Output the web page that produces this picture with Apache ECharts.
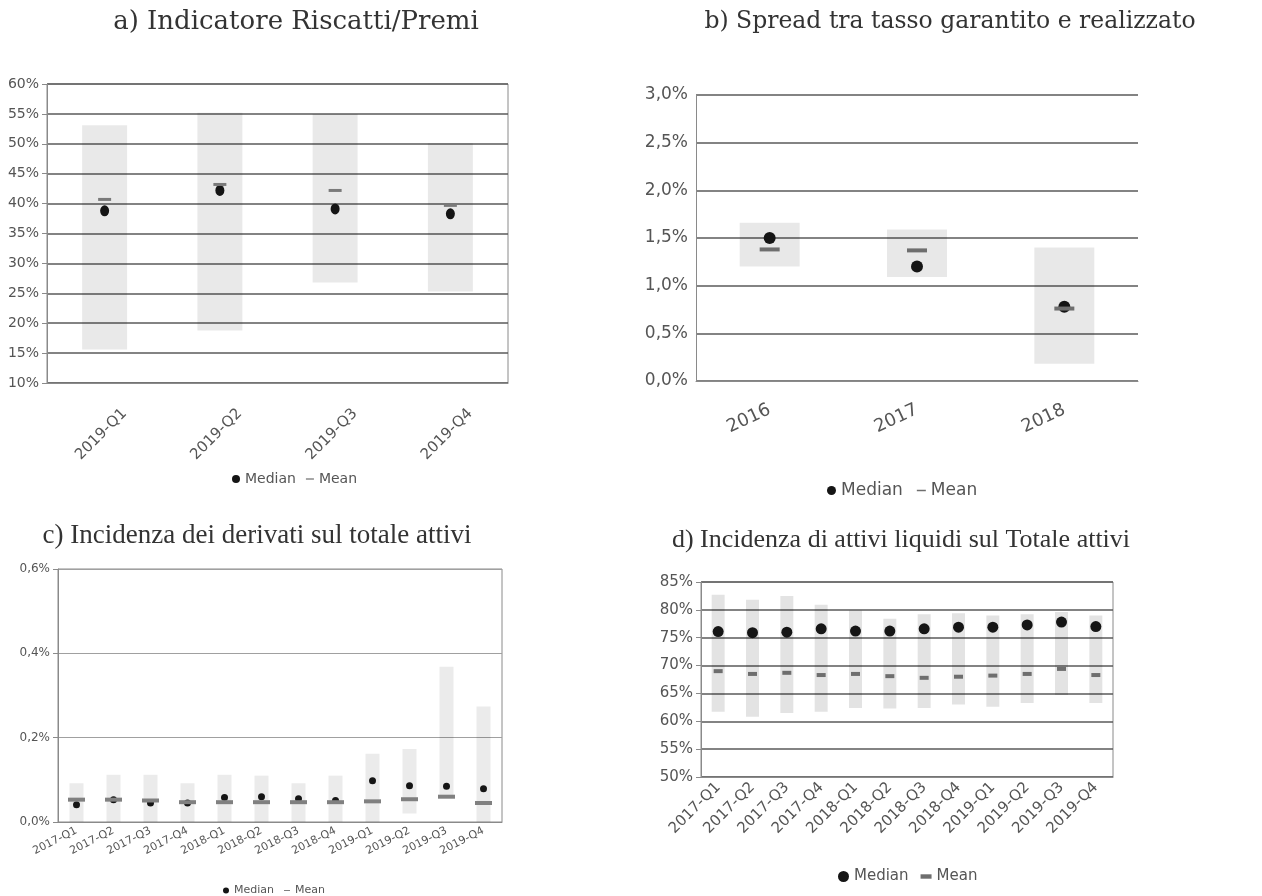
<!DOCTYPE html>
<html>
<head>
<meta charset="utf-8">
<script src="https://cdn.jsdelivr.net/npm/echarts@6/dist/echarts.min.js"></script>
<style>
  html, body { margin: 0; padding: 0; background: #fff; }
  #page  { position: relative; width: 1262px; height: 896px; }
  .panel { position: absolute; }
  #chartA { left: 0;     top: 0;   width: 620px; height: 500px; }
  #chartB { left: 620px; top: 0;   width: 642px; height: 500px; }
  #chartC { left: 0;     top: 500px; width: 620px; height: 396px; }
  #chartD { left: 630px; top: 500px; width: 632px; height: 396px; }
</style>
</head>
<body>
<div id="page">
  <div id="chartA" class="panel"></div>
  <div id="chartB" class="panel"></div>
  <div id="chartC" class="panel"></div>
  <div id="chartD" class="panel"></div>
</div>
<script>
// ─── data ───────────────────────────────────────────────────
// a) Indicatore Riscatti/Premi (%)
const quartersA = ['2019-Q1', '2019-Q2', '2019-Q3', '2019-Q4']
const lowA    = [15.6, 18.8, 26.8, 25.3]
const highA   = [53.1, 55.2, 55.0, 50.1]
const medianA = [38.8, 42.2, 39.1, 38.3]
const meanA   = [40.7, 43.2, 42.2, 39.7]

// b) Spread tra tasso garantito e realizzato (%)
const yearsB  = ['2016', '2017', '2018']
const lowB    = [1.20, 1.09, 0.18]
const highB   = [1.66, 1.59, 1.40]
const medianB = [1.50, 1.20, 0.78]
const meanB   = [1.38, 1.37, 0.76]

// c) e d) trimestri 2017-2019
const quartersCD = ['2017-Q1', '2017-Q2', '2017-Q3', '2017-Q4',
                    '2018-Q1', '2018-Q2', '2018-Q3', '2018-Q4',
                    '2019-Q1', '2019-Q2', '2019-Q3', '2019-Q4']

// c) Incidenza dei derivati sul totale attivi (%)
const lowC    = [0, 0, 0, 0, 0, 0, 0, 0, 0, 0.02, 0.057, 0]
const highC   = [0.092, 0.112, 0.112, 0.092, 0.112, 0.110, 0.092, 0.110, 0.162, 0.173, 0.368, 0.274]
const medianC = [0.041, 0.053, 0.045, 0.045, 0.058, 0.060, 0.055, 0.051, 0.098, 0.086, 0.085, 0.079]
const meanC   = [0.053, 0.053, 0.051, 0.047, 0.047, 0.047, 0.047, 0.047, 0.049, 0.054, 0.060, 0.045]

// d) Incidenza di attivi liquidi sul Totale attivi (%)
const lowD    = [61.7, 60.8, 61.5, 61.7, 62.4, 62.3, 62.4, 63.0, 62.6, 63.3, 64.7, 63.3]
const highD   = [82.7, 81.8, 82.5, 80.9, 79.9, 78.4, 79.2, 79.4, 79.0, 79.2, 79.6, 79.0]
const medianD = [76.1, 75.9, 76.0, 76.6, 76.2, 76.2, 76.6, 76.9, 76.9, 77.3, 77.8, 77.0]
const meanD   = [69.0, 68.5, 68.7, 68.3, 68.5, 68.1, 67.8, 68.0, 68.2, 68.5, 69.4, 68.3]

const SANS  = 'DejaVu Sans'
const SERIF = 'Liberation Serif'

// fmt: '60%' oppure '3,0%'
const pct = (dec) => (v) => v.toFixed(dec).replace('.', ',') + '%'

// ─── costruisce le serie: barra invisibile + intervallo + mediana + media ───
const buildSeries = (low, high, median, mean, s) => [
  {
    type: 'bar', stack: 'r', silent: true, barWidth: s.barW,
    itemStyle: { color: 'transparent' },
    data: low,
  },
  {
    // semitrasparente: le linee della griglia restano visibili
    type: 'bar', stack: 'r', silent: true, barWidth: s.barW,
    itemStyle: { color: s.barColor },
    data: high.map((h, i) => +(h - low[i]).toFixed(4)),
  },
  {
    name: 'Median', type: 'scatter', symbol: 'circle', symbolSize: s.dot,
    itemStyle: { color: '#151515', opacity: 1 },
    data: median,
  },
  {
    name: 'Mean', type: 'scatter', symbol: 'rect', symbolSize: s.dash,
    itemStyle: { color: s.dashColor, opacity: 1 },
    data: mean,
  },
]

const buildOption = (p) => ({
  animation: false,
  title: {
    text: p.title, left: p.titleX, top: p.titleY, textAlign: 'center',
    textStyle: { fontFamily: p.titleFont, fontSize: p.titleSize, fontWeight: 'normal', color: '#333' },
  },
  legend: {
    left: p.legendX, top: p.legendY, itemGap: p.legendGap,
    itemWidth: p.legendIcon, itemHeight: p.legendIcon,
    textStyle: { fontFamily: SANS, fontSize: p.legendFont, color: '#555' },
    data: [
      { name: 'Median', icon: 'circle' },
      { name: 'Mean',   icon: p.meanIcon },
    ],
  },
  grid: {
    left: p.grid[0], top: p.grid[1], width: p.grid[2], height: p.grid[3],
    show: p.border, borderColor: '#8a8a8a', borderWidth: 1,
  },
  xAxis: {
    type: 'category', data: p.cats,
    axisLine:  { lineStyle: { color: '#8a8a8a', width: 1 } },
    axisTick:  { length: 5, lineStyle: { color: '#8a8a8a' } },
    axisLabel: {
      interval: 0, rotate: p.rotate, margin: p.labelMargin, padding: p.labelPad,
      fontFamily: SANS, fontSize: p.xFont, color: '#555',
    },
  },
  yAxis: {
    type: 'value', min: p.min, max: p.max, interval: p.interval,
    axisLine:  { show: true, lineStyle: { color: '#8a8a8a', width: 1 } },
    axisTick:  { show: p.yTick, length: 5, lineStyle: { color: '#8a8a8a' } },
    axisLabel: { formatter: pct(p.dec), fontFamily: SANS, fontSize: p.yFont, color: '#555', margin: 8 },
    splitLine: { lineStyle: { color: p.gridColor, width: p.gridWidth } },
  },
  series: p.series,
})

// ─── a) ──────────────────────────────────────────────────────
const initChartA = () => {
  const chart = echarts.init(document.getElementById('chartA'))
  chart.setOption(buildOption({
    title: 'a) Indicatore Riscatti/Premi', titleX: 291, titleY: 4, titleSize: 26, titleFont: 'DejaVu Serif',
    legendX: 227, legendY: 467, legendGap: 10, legendIcon: 8, legendFont: 14,
    meanIcon: 'path://M0,0H6V1H0Z',
    grid: [47, 84, 461, 299], border: true, yTick: true,
    cats: quartersA, rotate: 45, labelMargin: 48, labelPad: [0, -28, 0, 0], xFont: 15,
    min: 10, max: 60, interval: 5, dec: 0, yFont: 14,
    gridColor: '#5a5a5a', gridWidth: 1.5,
    series: buildSeries(lowA, highA, medianA, meanA,
      { barW: 45, barColor: 'rgba(0,0,0,0.085)', dot: [9, 11], dash: [13, 3], dashColor: '#7a7a7a' }),
  }))
  return chart
}

// ─── b) ──────────────────────────────────────────────────────
const initChartB = () => {
  const chart = echarts.init(document.getElementById('chartB'))
  chart.setOption(buildOption({
    title: 'b) Spread tra tasso garantito e realizzato', titleX: 325, titleY: 5, titleSize: 23.5, titleFont: 'DejaVu Serif',
    legendX: 202, legendY: 477, legendGap: 14, legendIcon: 9, legendFont: 17,
    meanIcon: 'path://M0,0H6V1H0Z',
    grid: [76, 95, 442, 286], border: false, yTick: false,
    cats: yearsB, rotate: 25, labelMargin: 28, labelPad: 0, xFont: 18,
    min: 0, max: 3, interval: 0.5, dec: 1, yFont: 17,
    gridColor: '#5a5a5a', gridWidth: 1.5,
    series: buildSeries(lowB, highB, medianB, meanB,
      { barW: 60, barColor: 'rgba(0,0,0,0.09)', dot: 12, dash: [20, 4], dashColor: '#6e6e6e' }),
  }))
  return chart
}

// ─── c) ──────────────────────────────────────────────────────
const initChartC = () => {
  const chart = echarts.init(document.getElementById('chartC'))
  chart.setOption(buildOption({
    title: 'c) Incidenza dei derivati sul totale attivi', titleX: 252, titleY: 17, titleSize: 27, titleFont: SERIF,
    legendX: 218, legendY: 380, legendGap: 10, legendIcon: 6, legendFont: 11,
    meanIcon: 'path://M0,0H6V1H0Z',
    grid: [58, 69, 444, 253], border: true, yTick: true,
    cats: quartersCD, rotate: 27, labelMargin: 8, labelPad: 0, xFont: 11,
    min: 0, max: 0.6, interval: 0.2, dec: 1, yFont: 12,
    gridColor: '#a0a0a0', gridWidth: 1,
    series: buildSeries(lowC, highC, medianC, meanC,
      { barW: 14, barColor: 'rgba(0,0,0,0.08)', dot: 7, dash: [17, 4], dashColor: '#808080' }),
  }))
  return chart
}

// ─── d) ──────────────────────────────────────────────────────
const initChartD = () => {
  const chart = echarts.init(document.getElementById('chartD'))
  chart.setOption(buildOption({
    title: 'd) Incidenza di attivi liquidi sul Totale attivi', titleX: 266, titleY: 22, titleSize: 26, titleFont: SERIF,
    legendX: 203, legendY: 364, legendGap: 12, legendIcon: 11, legendFont: 15,
    meanIcon: 'path://M0,0H5V2H0Z',
    grid: [71, 82, 412, 195], border: true, yTick: true,
    cats: quartersCD, rotate: 45, labelMargin: 8, labelPad: 0, xFont: 15,
    min: 50, max: 85, interval: 5, dec: 0, yFont: 15,
    gridColor: '#5a5a5a', gridWidth: 1.5,
    series: buildSeries(lowD, highD, medianD, meanD,
      { barW: 13, barColor: 'rgba(0,0,0,0.11)', dot: 11, dash: [9, 4], dashColor: '#6e6e6e' }),
  }))
  return chart
}

const charts = [initChartA(), initChartB(), initChartC(), initChartD()]
window.addEventListener('resize', () => charts.forEach(c => c.resize()))
</script>
</body>
</html>
